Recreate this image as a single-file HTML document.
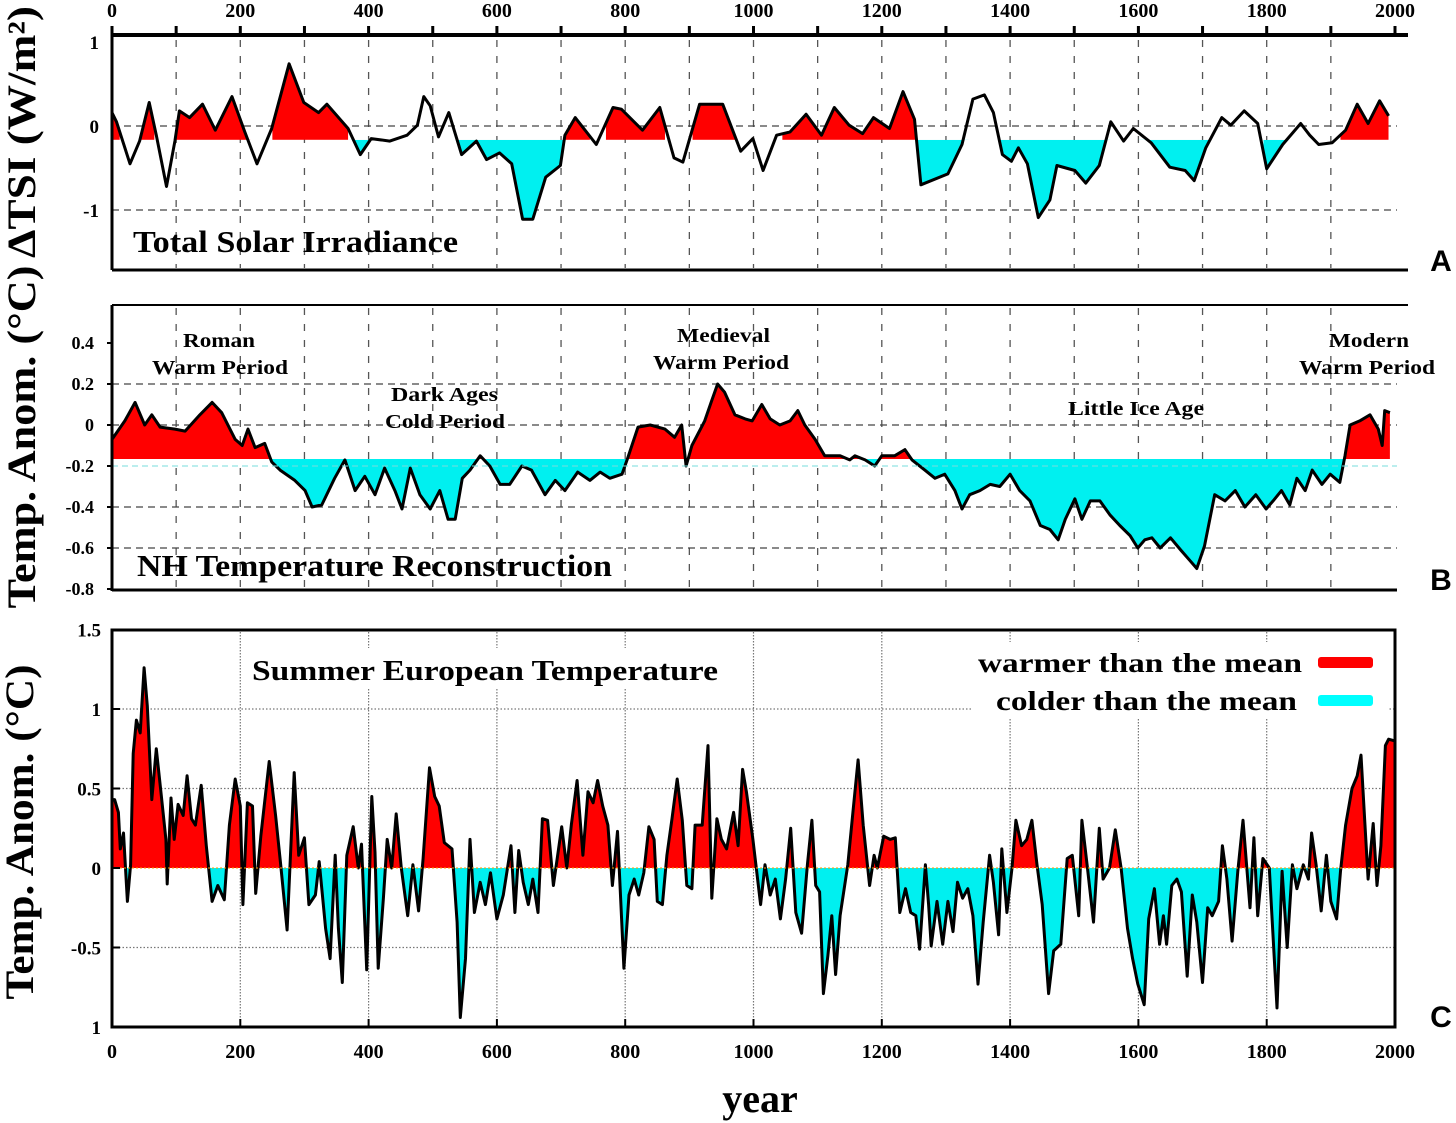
<!DOCTYPE html>
<html><head><meta charset="utf-8">
<style>
html,body{margin:0;padding:0;background:#fff;}
svg{display:block;}
text{font-family:"Liberation Serif",serif;font-weight:bold;fill:#000;}
</style></head>
<body>
<svg id="chart" width="1456" height="1123" viewBox="0 0 1456 1123" xmlns="http://www.w3.org/2000/svg">
<defs></defs>
</svg>
<script>
// ---- Panel A: Total Solar Irradiance ----
const tsiYears = [0,7,28,43,58,69,85,98,105,121,141,161,187,207,226,249,276,299,322,335,368,387,404,433,460,476,486,496,509,525,545,568,584,604,623,640,656,676,699,706,722,755,781,794,827,854,876,890,916,952,980,999,1015,1036,1057,1082,1106,1126,1149,1170,1187,1212,1233,1251,1261,1303,1325,1342,1360,1374,1388,1402,1413,1427,1444,1462,1473,1501,1518,1539,1557,1577,1592,1620,1649,1673,1687,1705,1730,1744,1765,1786,1800,1825,1853,1867,1881,1902,1923,1941,1958,1976,1990];
const tsiValues = [0.16,0.05,-0.45,-0.18,0.28,-0.11,-0.72,-0.18,0.18,0.10,0.26,-0.05,0.35,-0.07,-0.45,-0.03,0.74,0.28,0.16,0.26,-0.03,-0.34,-0.15,-0.18,-0.11,0.01,0.35,0.24,-0.13,0.16,-0.34,-0.18,-0.40,-0.32,-0.45,-1.11,-1.11,-0.61,-0.47,-0.11,0.10,-0.22,0.22,0.20,-0.05,0.22,-0.38,-0.43,0.26,0.26,-0.30,-0.15,-0.53,-0.11,-0.07,0.14,-0.11,0.22,0.01,-0.09,0.10,-0.03,0.41,0.08,-0.70,-0.57,-0.22,0.32,0.37,0.16,-0.34,-0.42,-0.26,-0.45,-1.09,-0.88,-0.47,-0.53,-0.68,-0.47,0.05,-0.18,-0.03,-0.20,-0.49,-0.53,-0.65,-0.26,0.10,0.01,0.18,0.03,-0.51,-0.22,0.03,-0.11,-0.22,-0.20,-0.05,0.26,0.03,0.30,0.12];
const tsiMean = -0.165;
const tsiTicks = [1,0,-1];
const tsiWarmStart = [0,45,100,250,705,770,905,1045,1915];
const tsiWarmEnd = [12,66,216,368,745,862,975,1252,1990];
const tsiColdStart = [370,540,1252,1385,1600,1795];
const tsiColdEnd = [402,706,1335,1556,1712,1830];
// ---- Panel B: NH temperature ----
const nhYears = [0,20,36,51,62,75,98,114,137,156,171,192,203,212,223,238,249,262,285,301,312,327,347,363,379,394,410,425,441,452,465,480,496,511,524,535,546,558,574,589,605,620,639,654,675,691,706,726,745,761,776,795,804,820,839,862,877,888,895,904,924,935,944,955,971,987,998,1013,1026,1041,1057,1069,1080,1096,1111,1135,1150,1158,1174,1189,1200,1220,1236,1247,1267,1283,1298,1314,1325,1337,1353,1369,1384,1400,1415,1431,1447,1462,1475,1486,1501,1512,1525,1540,1556,1571,1587,1599,1610,1621,1634,1650,1666,1680,1691,1703,1719,1735,1751,1766,1783,1799,1810,1823,1836,1847,1860,1871,1886,1899,1914,1922,1930,1945,1961,1974,1980,1984,1992];
const nhValues = [-0.07,0.02,0.11,0.0,0.05,-0.01,-0.02,-0.03,0.05,0.11,0.06,-0.07,-0.10,-0.02,-0.11,-0.09,-0.18,-0.22,-0.27,-0.32,-0.40,-0.39,-0.26,-0.17,-0.32,-0.25,-0.34,-0.21,-0.32,-0.41,-0.21,-0.34,-0.41,-0.32,-0.46,-0.46,-0.26,-0.22,-0.15,-0.20,-0.29,-0.29,-0.20,-0.22,-0.34,-0.27,-0.32,-0.23,-0.27,-0.23,-0.26,-0.24,-0.16,-0.01,0.0,-0.02,-0.06,0.0,-0.20,-0.10,0.02,0.12,0.20,0.16,0.05,0.03,0.02,0.10,0.03,0.0,0.02,0.07,0.0,-0.07,-0.15,-0.15,-0.17,-0.15,-0.17,-0.20,-0.15,-0.15,-0.12,-0.17,-0.22,-0.26,-0.24,-0.32,-0.41,-0.34,-0.32,-0.29,-0.30,-0.24,-0.32,-0.37,-0.49,-0.51,-0.56,-0.46,-0.36,-0.46,-0.37,-0.37,-0.44,-0.49,-0.54,-0.60,-0.56,-0.55,-0.60,-0.55,-0.61,-0.66,-0.70,-0.59,-0.34,-0.37,-0.32,-0.40,-0.34,-0.41,-0.37,-0.32,-0.39,-0.26,-0.32,-0.22,-0.29,-0.24,-0.28,-0.15,0.0,0.02,0.05,-0.02,-0.10,0.07,0.06];
const nhMean = -0.166;
const nhTicks = [0.4,0.2,0,-0.2,-0.4,-0.6,-0.8];
const nhTickLabels = ["0.4","0.2","0","-0.2","-0.4","-0.6","-0.8"];
// ---- Panel C: summer European temperature ----
const euYears = [0,4,10,13,18,24,29,33,38,44,50,55,62,69,77,84,86,92,97,103,111,117,124,130,139,147,156,165,175,183,192,200,204,211,219,224,232,245,255,263,273,284,291,300,307,317,323,333,340,348,353,359,366,376,384,389,397,405,410,415,423,429,436,443,451,461,469,478,485,495,503,510,518,530,538,543,551,558,565,574,582,590,600,610,622,628,634,641,649,656,664,671,679,688,701,709,716,725,734,742,750,757,765,773,780,788,798,806,814,821,829,837,845,850,858,865,873,881,889,896,904,909,920,929,935,943,950,958,969,976,983,989,999,1011,1018,1026,1034,1042,1050,1058,1066,1075,1084,1091,1097,1103,1109,1116,1122,1128,1135,1147,1155,1163,1171,1181,1188,1193,1203,1213,1221,1228,1237,1245,1253,1259,1268,1273,1277,1286,1295,1303,1311,1318,1326,1334,1342,1350,1358,1368,1374,1382,1387,1395,1403,1409,1418,1426,1434,1442,1450,1460,1468,1479,1489,1497,1507,1512,1520,1530,1539,1545,1555,1564,1573,1583,1591,1599,1609,1616,1625,1633,1639,1644,1652,1660,1667,1676,1684,1691,1700,1708,1715,1725,1731,1738,1746,1755,1763,1774,1780,1786,1794,1804,1816,1824,1832,1840,1847,1857,1865,1870,1877,1885,1893,1900,1909,1915,1923,1933,1941,1947,1953,1958,1966,1972,1978,1985,1990,1999];
const euValues = [0.43,0.43,0.35,0.12,0.22,-0.21,0.02,0.72,0.93,0.85,1.26,1.02,0.43,0.75,0.45,0.18,-0.10,0.44,0.18,0.40,0.33,0.58,0.31,0.27,0.52,0.14,-0.21,-0.11,-0.20,0.27,0.56,0.39,-0.23,0.41,0.39,-0.16,0.20,0.67,0.33,0.02,-0.39,0.60,0.08,0.19,-0.23,-0.17,0.04,-0.38,-0.57,0.08,-0.38,-0.72,0.08,0.26,0.0,0.15,-0.64,0.45,0.10,-0.63,-0.19,0.18,0.0,0.34,0.0,-0.30,0.02,-0.27,0.06,0.63,0.45,0.39,0.16,0.12,-0.34,-0.94,-0.57,0.18,-0.28,-0.09,-0.23,-0.03,-0.32,-0.17,0.14,-0.28,0.11,-0.09,-0.23,-0.07,-0.28,0.31,0.30,-0.11,0.26,0.0,0.27,0.55,0.08,0.48,0.41,0.55,0.39,0.27,-0.11,0.23,-0.63,-0.17,-0.07,-0.17,-0.03,0.26,0.18,-0.21,-0.23,0.08,0.31,0.56,0.30,-0.11,-0.13,0.27,0.27,0.77,-0.19,0.31,0.18,0.12,0.35,0.14,0.62,0.48,0.18,-0.23,0.02,-0.17,-0.07,-0.32,-0.07,0.25,-0.28,-0.41,0.02,0.30,-0.11,-0.15,-0.79,-0.55,-0.30,-0.67,-0.30,0.02,0.35,0.68,0.27,-0.11,0.08,0.0,0.20,0.18,0.19,-0.28,-0.13,-0.28,-0.30,-0.51,0.02,-0.23,-0.49,-0.21,-0.48,-0.21,-0.40,-0.09,-0.19,-0.13,-0.30,-0.73,-0.34,0.08,-0.09,-0.42,0.12,-0.28,0.0,0.30,0.14,0.18,0.30,0.02,-0.23,-0.79,-0.52,-0.48,0.06,0.08,-0.30,0.30,0.02,-0.34,0.25,-0.07,0.0,0.24,0.0,-0.38,-0.57,-0.73,-0.86,-0.32,-0.13,-0.48,-0.30,-0.48,-0.11,-0.07,-0.15,-0.68,-0.17,-0.34,-0.72,-0.25,-0.30,-0.21,0.14,-0.07,-0.46,-0.02,0.30,-0.25,0.19,-0.30,0.06,0.0,-0.88,-0.02,-0.50,0.02,-0.13,0.02,-0.07,0.22,0.02,-0.27,0.08,-0.21,-0.32,-0.02,0.27,0.50,0.58,0.71,0.29,-0.07,0.28,-0.11,0.14,0.77,0.81,0.80];
const euMean = 0;
const euTicks = [1.5,1,0.5,0,-0.5,-1];
const euTickLabels = ["1.5","1","0.5","0","-0.5","1"];
const yearTicks = [0,200,400,600,800,1000,1200,1400,1600,1800,2000];

const NS = "http://www.w3.org/2000/svg";
const svg = document.getElementById('chart');
function el(tag, attrs, parent) {
  const e = document.createElementNS(NS, tag);
  for (const k in attrs) e.setAttribute(k, attrs[k]);
  (parent || svg).appendChild(e);
  return e;
}
const X0 = 112, X1 = 1395;
function xs(year) { return X0 + (year / 2000) * (X1 - X0); }
function makeY(v0, y0, v1, y1) { return v => y0 + (v - v0) * (y1 - y0) / (v1 - v0); }
const yA = makeY(0, 126, -1, 210);
const yB = makeY(0, 425, -0.8, 589);
const yC = makeY(0, 868, 1, 709);

let clipId = 0;
// ranges: optional {warm:[starts,ends], cold:[starts,ends]} in years
function drawSeries(years, values, mean, ys, name, top, bottom, ranges) {
  const n = Math.min(years.length, values.length);
  const g = el('g', {});
  
  
  const by = ys(mean);
  const pts = [];
  for (let i = 0; i < n; i++) pts.push(xs(years[i]).toFixed(1) + ',' + ys(values[i]).toFixed(1));
  const area = xs(years[0]).toFixed(1) + ',' + by + ' ' + pts.join(' ') + ' ' + xs(years[n - 1]).toFixed(1) + ',' + by;
  const defs = svg.querySelector('defs');
  const idUp = 'clipup' + (clipId++), idDn = 'clipdn' + (clipId++);
  const c1 = el('clipPath', {id: idUp}, defs);
  const c2 = el('clipPath', {id: idDn}, defs);
  if (ranges) {
    ranges.warm[0].forEach((s, i) => el('rect', {x: xs(s), y: top, width: xs(ranges.warm[1][i]) - xs(s), height: by - top}, c1));
    ranges.cold[0].forEach((s, i) => el('rect', {x: xs(s), y: by, width: xs(ranges.cold[1][i]) - xs(s), height: bottom - by}, c2));
  } else {
    el('rect', {x: 0, y: top, width: 1456, height: by - top}, c1);
    el('rect', {x: 0, y: by, width: 1456, height: bottom - by}, c2);
  }
  const warm = el('polygon', {points: area, fill: '#ff0000', 'clip-path': 'url(#' + idUp + ')'}, g);
  
  
  const cold = el('polygon', {points: area, fill: '#00f0f0', 'clip-path': 'url(#' + idDn + ')'}, g);
  
  
  const line = el('polyline', {points: pts.join(' '), fill: 'none', stroke: '#000', 'stroke-width': 3, 'stroke-linejoin': 'round'}, g);
  
  
}
function text(x, y, s, size, anchor, name, extra) {
  const t = el('text', Object.assign({x: x, y: y, 'font-size': size, 'text-anchor': anchor || 'start'}, extra || {}));
  t.textContent = s;
  
  
  return t;
}
function fit(len) { return {textLength: len, lengthAdjust: 'spacingAndGlyphs'}; }

// ===== Panel A grid =====
for (let yr = 100; yr < 2000; yr += 100) {
  const gl = el('line', {x1: xs(yr), x2: xs(yr), y1: 40, y2: 268, stroke: '#555', 'stroke-width': 1.3, 'stroke-dasharray': '7,9'});
  
  
}
[0, -1].forEach(v => {
  const gl = el('line', {x1: X0, x2: 1397, y1: yA(v), y2: yA(v), stroke: '#444', 'stroke-width': 1.3, 'stroke-dasharray': '7,5'});
  
  
});
drawSeries(tsiYears, tsiValues, tsiMean, yA, 'tsi', 38, 268, {warm: [tsiWarmStart, tsiWarmEnd], cold: [tsiColdStart, tsiColdEnd]});
el('line', {x1: X0, x2: 1408, y1: 35, y2: 35, stroke: '#000', 'stroke-width': 4});
el('line', {x1: X0, x2: X0, y1: 35, y2: 270, stroke: '#000', 'stroke-width': 3});
el('line', {x1: X0, x2: 1408, y1: 270, y2: 270, stroke: '#000', 'stroke-width': 3});
for (let yr = 0; yr <= 2000; yr += 100) {
  const tk = el('line', {x1: xs(yr), x2: xs(yr), y1: 26, y2: 35, stroke: '#000', 'stroke-width': 3});
   
}
yearTicks.forEach(yr => text(xs(yr), 17, String(yr), 20, 'middle', 'panel-a-top-tick-label'));
tsiTicks.forEach(v => text(99, yA(v) + 7, String(v), 19, 'end', 'panel-a-y-tick-label'));
text(133, 252, 'Total Solar Irradiance', 31, 'start', 'panel-a-title', fit(325));
text(22, 132, 'ΔTSI (W/m²)', 40, 'middle', 'panel-a-y-axis-title', Object.assign({transform: 'rotate(-90 22 132)', dy: '13'}, fit(252)));
text(1441, 271, 'A', 30, 'middle', 'panel-a-label', {style: 'font-family:"Liberation Sans",sans-serif'});

// ===== Panel B grid =====
for (let yr = 100; yr < 2000; yr += 100) {
  const gl = el('line', {x1: xs(yr), x2: xs(yr), y1: 308, y2: 588, stroke: '#555', 'stroke-width': 1.3, 'stroke-dasharray': '7,9'});
  
  
}
[0.2, 0, -0.4, -0.6].forEach(v => {
  const gl = el('line', {x1: X0, x2: 1397, y1: yB(v), y2: yB(v), stroke: '#444', 'stroke-width': 1.3, 'stroke-dasharray': '7,5'});
  
  
});
drawSeries(nhYears, nhValues, nhMean, yB, 'nh-temp', 306, 588);
{
  const ml = el('line', {x1: X0, x2: 1397, y1: yB(-0.2), y2: yB(-0.2), stroke: '#7dd', 'stroke-width': 1, 'stroke-dasharray': '6,4'});
   
}
el('line', {x1: X0, x2: 1408, y1: 305, y2: 305, stroke: '#000', 'stroke-width': 2});
el('line', {x1: X0, x2: X0, y1: 305, y2: 591, stroke: '#000', 'stroke-width': 3});
el('line', {x1: X0, x2: 1397, y1: 590, y2: 590, stroke: '#000', 'stroke-width': 3});
nhTicks.forEach((v, i) => {
  const tk = el('line', {x1: X0 - 5, x2: X0, y1: yB(v), y2: yB(v), stroke: '#000', 'stroke-width': 2});
   
  text(94, yB(v) + 6, nhTickLabels[i], 18, 'end', 'panel-b-y-tick-label');
});
text(137, 576, 'NH Temperature Reconstruction', 31, 'start', 'panel-b-title', fit(475));
text(183, 347, 'Roman', 20, 'start', 'roman-label', fit(72));
text(152, 374, 'Warm Period', 20, 'start', 'roman-label', fit(136));
text(391, 401, 'Dark Ages', 20, 'start', 'dark-ages-label', fit(107));
text(385, 428, 'Cold Period', 20, 'start', 'dark-ages-label', fit(120));
text(677, 342, 'Medieval', 20, 'start', 'medieval-label', fit(93));
text(653, 369, 'Warm Period', 20, 'start', 'medieval-label', fit(136));
text(1068, 415, 'Little Ice Age', 20, 'start', 'little-ice-age-label', fit(136));
text(1329, 347, 'Modern', 20, 'start', 'modern-label', fit(80));
text(1299, 374, 'Warm Period', 20, 'start', 'modern-label', fit(136));
text(22, 437, 'Temp. Anom. (°C)', 40, 'middle', 'panel-b-y-axis-title', Object.assign({transform: 'rotate(-90 22 437)', dy: '13'}, fit(343)));
text(1441, 590, 'B', 30, 'middle', 'panel-b-label', {style: 'font-family:"Liberation Sans",sans-serif'});

// ===== Panel C =====
for (let yr = 200; yr < 2000; yr += 200) {
  const gl = el('line', {x1: xs(yr), x2: xs(yr), y1: 632, y2: 1025, stroke: '#777', 'stroke-width': 1.2, 'stroke-dasharray': '1.5,1.5'});
  
  
}
[1, 0.5, -0.5].forEach(v => {
  const gl = el('line', {x1: X0, x2: X1, y1: yC(v), y2: yC(v), stroke: '#777', 'stroke-width': 1.2, 'stroke-dasharray': '1.5,2'});
  
  
});
drawSeries(euYears, euValues, euMean, yC, 'eu-temp', 631, 1026);
{
  const ml = el('line', {x1: X0, x2: X1, y1: yC(0), y2: yC(0), stroke: '#f90', 'stroke-width': 1, 'stroke-dasharray': '2,2'});
   
}
el('rect', {x: X0, y: 630, width: X1 - X0, height: 397, fill: 'none', stroke: '#000', 'stroke-width': 3});
euTicks.forEach((v, i) => {
  const tk = el('line', {x1: X0, x2: X0 + 8, y1: yC(v), y2: yC(v), stroke: '#000', 'stroke-width': 2});
   
  text(101, yC(v) + 7, euTickLabels[i], 19, 'end', 'panel-c-y-tick-label');
});
yearTicks.forEach(yr => {
  const tk = el('line', {x1: xs(yr), x2: xs(yr), y1: 1019, y2: 1027, stroke: '#000', 'stroke-width': 2});
   
  text(xs(yr), 1058, String(yr), 20, 'middle', 'panel-c-x-tick-label');
});
el('rect', {x: 972, y: 642, width: 416, height: 76, fill: '#fff'});
el('rect', {x: 248, y: 648, width: 476, height: 40, fill: '#fff'});
text(252, 680, 'Summer European Temperature', 29, 'start', 'panel-c-title', fit(466));
text(978, 672, 'warmer than the mean', 27, 'start', 'legend-warm-label', fit(324));
text(996, 710, 'colder than the mean', 27, 'start', 'legend-cold-label', fit(301));
el('rect', {x: 1318, y: 657, width: 55, height: 11, rx: 3, fill: '#f00'});
el('rect', {x: 1318, y: 695, width: 55, height: 11, rx: 3, fill: '#0ff'});
text(20, 832, 'Temp. Anom. (°C)', 40, 'middle', 'panel-c-y-axis-title', Object.assign({transform: 'rotate(-90 20 832)', dy: '13'}, fit(335)));
text(1441, 1027, 'C', 30, 'middle', 'panel-c-label', {style: 'font-family:"Liberation Sans",sans-serif'});
text(760, 1112, 'year', 40, 'middle', 'x-axis-title');
</script>
</body></html>
